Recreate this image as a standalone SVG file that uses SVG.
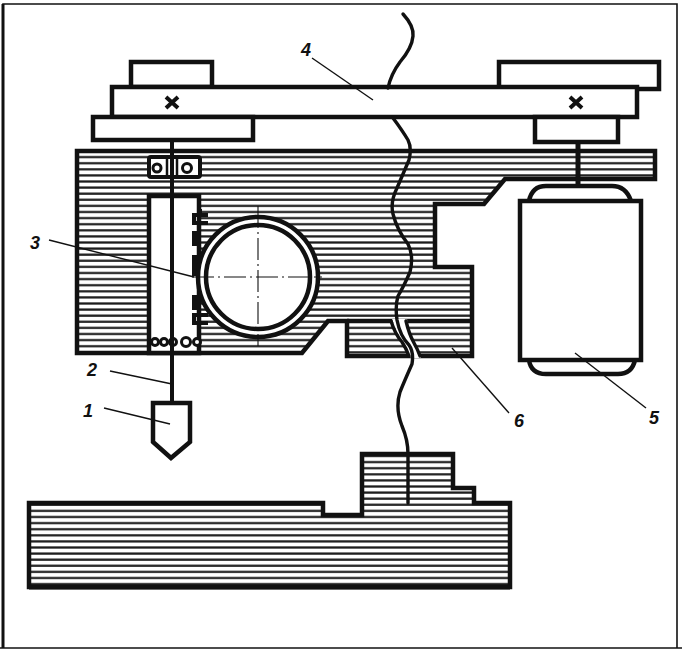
<svg xmlns="http://www.w3.org/2000/svg" width="682" height="651" viewBox="0 0 682 651">
<style>
.o{fill:#fff;stroke:#111;stroke-width:4.5;stroke-linejoin:miter}
.h{fill:url(#hatch);stroke:#111;stroke-width:4.5;stroke-linejoin:miter}
.l{fill:none;stroke:#111;stroke-width:4.5;stroke-linejoin:round}
.w{fill:none;stroke:#111;stroke-width:3.4;stroke-linecap:round;stroke-linejoin:round}
.t{fill:none;stroke:#111;stroke-width:1.4}
.c{fill:none;stroke:#111;stroke-width:1.1;stroke-dasharray:22 4 2 4}
.b{fill:#fff;stroke:#111;stroke-width:3}
.d{fill:#111}
text{font-family:"Liberation Sans",Arial,sans-serif;font-style:italic;font-weight:bold;font-size:18px;fill:#111}
</style>
<defs>
<pattern id="hatch" width="8" height="6.1" patternUnits="userSpaceOnUse" y="1.5">
<rect width="8" height="6.1" fill="#fff"/>
<rect y="2" width="8" height="2.2" fill="#1a1a1a"/>
</pattern>
</defs>
<rect id="background" width="682" height="651" fill="#fff"/>
<g id="frame">
<path d="M3 648V4H677V648" fill="none" stroke="#111" stroke-width="1.6"/>
<path d="M3 4V648" stroke="#111" stroke-width="3"/>
<path d="M0 648H682" stroke="#111" stroke-width="1.6"/>
</g>
<g id="body">
<path class="h" d="M77 151H655V179H505L484 204H435V267H472V356H347V321H328L302 353H77Z"/>
<path class="l" d="M347 321H472"/>
<path d="M392 319Q396 332 405 346L411 358H421L413 344Q409 332 407 319Z" fill="#fff"/>
<path class="w" d="M391 321Q395 334 402 342Q406 348 409 356"/>
<path class="w" d="M406 321Q409 334 414 343Q418 350 420 356"/>
</g>
<g id="slot">
<path style="fill:#fff;stroke:#111;stroke-width:4.5" d="M149 353V196H199V353Z"/>
<g id="slot-teeth">
<path class="d" d="M192 213H199V209H202V213H208V217H196V221H208V225H192Z"/>
<path class="d" d="M192 231H200V246H192Z"/>
<path class="d" d="M192 255H200V276H192Z"/>
<path class="d" d="M192 295H200V310H192Z"/>
<path class="d" d="M192 313H208V317H196V321H208V325H192Z"/>
</g>
<g id="bearings-bottom">
<circle class="b" cx="155" cy="342" r="3.5"/>
<circle class="b" cx="164" cy="342" r="3.5"/>
<circle class="b" cx="173" cy="342" r="3.5"/>
<circle class="b" cx="186" cy="342" r="4.5"/>
<circle class="b" cx="197" cy="342" r="3.5"/>
</g>
</g>
<g id="bearing-block">
<rect x="149" y="157" width="51" height="20" rx="2" fill="#fff" stroke="#111" stroke-width="4"/>
<circle class="b" cx="157" cy="168" r="4"/>
<circle class="b" cx="187" cy="168" r="4.5"/>
<path d="M167 157V177M177 157V177" stroke="#111" stroke-width="2.5"/>
</g>
<g id="wheel">
<circle class="o" cx="258" cy="277" r="60"/>
<circle class="o" cx="258" cy="277" r="52"/>
<path class="c" d="M192 277H322M258 206V346"/>
</g>
<g id="pulleys-belt">
<rect class="o" x="131" y="62" width="81" height="25"/>
<rect class="o" x="499" y="62" width="160" height="27"/>
<rect class="o" x="112" y="87" width="525" height="30"/>
<rect class="o" x="93" y="117" width="160" height="23"/>
<rect class="o" x="535" y="117" width="83" height="25"/>
<path d="M166 97L178 108M178 97L166 108M570 97L582 108M582 97L570 108" stroke="#111" stroke-width="4"/>
</g>
<g id="spindle">
<path d="M172 140V402" stroke="#111" stroke-width="4"/>
<path class="o" d="M153 403H190V442L171 458L153 442Z"/>
</g>
<g id="motor">
<path d="M578 142V186" stroke="#111" stroke-width="5"/>
<path class="o" d="M529 201Q532 186 546 186H612Q626 186 631 201"/>
<path class="o" d="M529 360Q531 374 546 374H618Q632 374 635 360"/>
<rect class="o" x="520" y="201" width="121" height="159"/>
</g>
<g id="base">
<path class="h" d="M29 503H323V515H362V454H453V488H474V503H510V587H29Z"/>
<path d="M29 587H510" stroke="#111" stroke-width="5"/>
</g>
<g id="break-line">
<path class="w" d="M403 14Q414 26 413 36Q412 48 400 62Q391 74 388 88"/>
<path class="w" d="M393 118Q402 130 408 140Q412 148 409 160Q403 174 397 188Q390 202 393 214Q397 230 408 244Q414 256 410 272Q404 286 398 296Q395 306 397 320Q400 336 409 345Q414 352 412 364Q404 382 400 392Q395 408 402 426Q408 440 408 454V503"/>
</g>
<g id="connectors">
<path class="t" d="M104 408L170 424"/>
<path class="t" d="M110 371L172 384"/>
<path class="t" d="M49 240L194 277"/>
<path class="t" d="M312 58L373 100"/>
<path class="t" d="M646 408L575 353"/>
<path class="t" d="M509 413L452 348"/>
</g>
<g id="labels">
<text x="83" y="417">1</text>
<text x="87" y="376">2</text>
<text x="30" y="249">3</text>
<text x="301" y="56">4</text>
<text x="649" y="424">5</text>
<text x="514" y="427">6</text>
</g>
</svg>
